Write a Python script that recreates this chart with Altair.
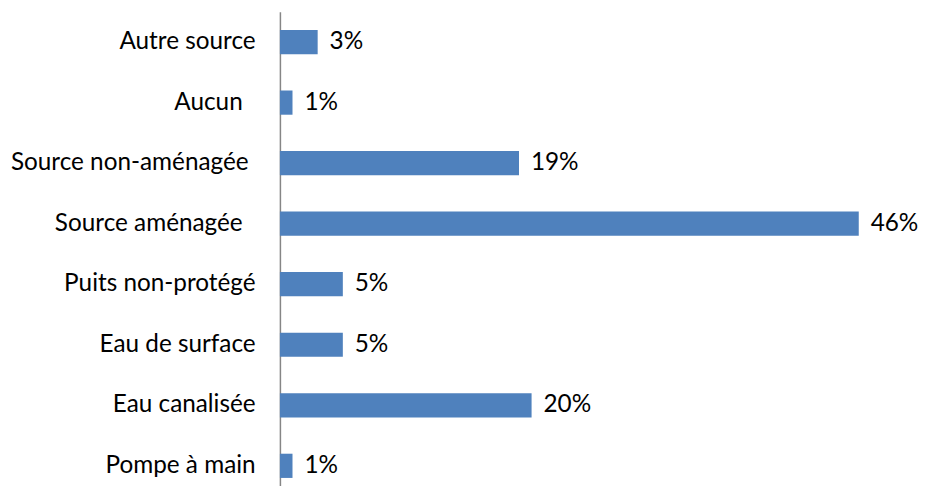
import altair as alt
import pandas as pd

categories = ["Autre source", "Aucun", "Source non-aménagée", "Source aménagée",
              "Puits non-protégé", "Eau de surface", "Eau canalisée", "Pompe à main"]
values = [3, 1, 19, 46, 5, 5, 20, 1]
labels = ["3%", "1%", "19%", "46%", "5%", "5%", "20%", "1%"]

df = pd.DataFrame({"cat": categories, "val": values, "lab": labels})

FONT = "Lato"
SIZE = 24.5

pad_expr = ("datum.label == 'Aucun' ? 38 : datum.label == 'Source aménagée' ? 38 : "
            "datum.label == 'Source non-aménagée' ? 32 : 25")

y = alt.Y("cat:N", sort=categories, title=None,
          scale=alt.Scale(range=[0, 488], paddingInner=0.6, paddingOuter=0.3),
          axis=alt.Axis(domainColor="#868686", domainWidth=1.5, ticks=False,
                        labelFont=FONT, labelFontSize=SIZE, labelColor="#000000",
                        labelPadding=alt.ExprRef(pad_expr), labelLimit=0))
x = alt.X("val:Q", scale=alt.Scale(domain=[0, 50]), axis=None)

bars = alt.Chart(df).mark_bar(color="#4F81BD").encode(y=y, x=x)
text = alt.Chart(df).mark_text(align="left", dx=12, font=FONT, fontSize=SIZE, color="#000000").encode(
    y=alt.Y("cat:N", sort=categories), x="val:Q", text="lab:N")

chart = alt.layer(bars, text).properties(
    width=634, height=476,
    autosize=alt.AutoSizeParams(type="none"),
    padding={"left": 274, "top": 2, "right": 12, "bottom": 0},
).configure(background="white", view=alt.ViewConfig(stroke=None))

chart.save("out.html", embed_options={"renderer": "svg", "actions": False})
